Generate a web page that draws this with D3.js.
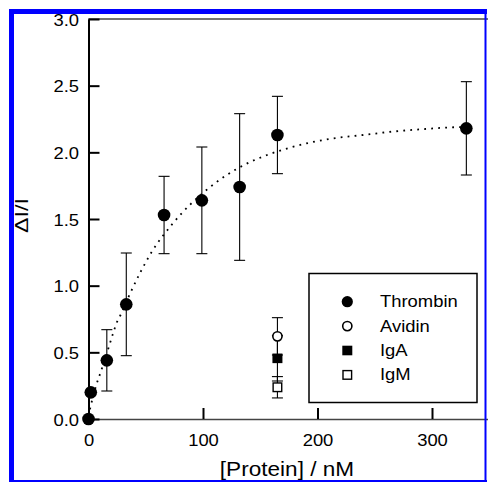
<!DOCTYPE html>
<html>
<head>
<meta charset="utf-8">
<script src="https://cdn.jsdelivr.net/npm/d3@7"></script>
<style>
  html, body { margin: 0; padding: 0; background: #fff; }
  svg { display: block; font-family: "Liberation Sans", Arial, Helvetica, sans-serif; }
</style>
</head>
<body>
<div id="chart"></div>
<script>
// Thrombin binding curve, plus the control proteins at 165 nM.

const thrombinX   = [0, 2, 16, 33, 66, 99, 132, 165, 330];
const thrombinY   = [0.00, 0.20, 0.44, 0.86, 1.53, 1.64, 1.74, 2.13, 2.18];
const thrombinErr = [0, 0, 0.23, 0.385, 0.29, 0.40, 0.55, 0.29, 0.35];

// controls, all at 165 nM
const controlNames = ["Avidin", "IgA", "IgM"];
const controlX     = [165, 165, 165];
const controlY     = [0.62, 0.455, 0.238];
const controlErr   = [0.14, 0.17, 0.08];

// dotted fit curve
const fitX = [0, 2, 7, 11, 17, 21, 25, 28, 36, 55, 73, 89, 102, 119, 137, 156, 174, 192, 210, 240, 265, 294, 319, 330];
const fitY = [0.02, 0.10, 0.26, 0.36, 0.52, 0.63, 0.73, 0.78, 0.935, 1.25, 1.46, 1.61, 1.71, 1.82, 1.91, 1.98, 2.03, 2.07, 2.10, 2.13, 2.155, 2.175, 2.188, 2.19];

const xTicks = [0, 100, 200, 300];
const yTicks = [0, 0.5, 1, 1.5, 2, 2.5, 3];
const legendNames = ["Thrombin", "Avidin", "IgA", "IgM"];

const W = 488, H = 483;
const STRETCH = 1.13;   // the original text is a bit wide
const FS = 16.3;

const svg = d3.select("#chart").append("svg").attr("width", W).attr("height", H);
svg.append("rect").attr("width", W).attr("height", H).attr("fill", "#fff");

const x = d3.scaleLinear().domain([0, 350]).range([88.5, 88.5 + 350 * 1.145]);
const y = d3.scaleLinear().domain([0, 3]).range([419, 19]);

// top frame line
svg.append("line")
  .attr("x1", x(0)).attr("x2", x(350))
  .attr("y1", y(3)).attr("y2", y(3))
  .attr("stroke", "#444").attr("stroke-width", 1.5);

// ---------- axes ----------
const gx = svg.append("g").attr("transform", `translate(0,${y(0)})`)
  .call(d3.axisBottom(x).tickValues(xTicks).tickSize(-11).tickSizeOuter(0).tickFormat(d3.format("d")));
gx.select(".domain").attr("stroke", "#444").attr("stroke-width", 1.5);
gx.selectAll(".tick line").attr("stroke", "#000").attr("stroke-width", 2);
gx.selectAll(".tick text")
  .attr("y", null).attr("dy", null)
  .attr("font-size", FS).attr("fill", "#000").attr("font-family", null)
  .attr("text-anchor", "middle")
  .attr("transform", `translate(0,27) scale(${STRETCH},1)`);

const gy = svg.append("g").attr("transform", `translate(${x(0)},0)`)
  .call(d3.axisLeft(y).tickValues(yTicks).tickSize(-11).tickSizeOuter(0).tickFormat(d3.format(".1f")));
gy.select(".domain").attr("stroke", "#000").attr("stroke-width", 2);
gy.selectAll(".tick line").attr("stroke", "#000").attr("stroke-width", 2);
gy.selectAll(".tick text")
  .attr("x", null).attr("dy", null)
  .attr("font-size", FS).attr("fill", "#000").attr("font-family", null)
  .attr("text-anchor", "end")
  .attr("transform", `translate(-9.5,6) scale(${STRETCH},1)`);

// axis titles
svg.append("text")
  .attr("transform", `translate(287,476) scale(${STRETCH},1)`)
  .attr("text-anchor", "middle")
  .attr("font-size", 20)
  .text("[Protein] / nM");

svg.append("text")
  .attr("transform", "translate(28,215.5) rotate(-90)")
  .attr("text-anchor", "middle")
  .attr("font-size", 18)
  .attr("textLength", 35).attr("lengthAdjust", "spacingAndGlyphs")
  .text("ΔI/I");

// ---------- fit ----------
const fitLine = d3.line().x((d, i) => x(fitX[i])).y((d, i) => y(fitY[i])).curve(d3.curveMonotoneX);
svg.append("path")
  .datum(fitX)
  .attr("d", fitLine)
  .attr("fill", "none")
  .attr("stroke", "#000")
  .attr("stroke-width", 1.8)
  .attr("stroke-dasharray", "1.8,5.2");

// ---------- error bars ----------
const CAP = 5.5;
function errorBar(g, xv, yv, e) {
  if (!e) return;
  const px = x(xv), top = y(yv + e), bot = y(yv - e);
  g.append("line").attr("x1", px).attr("x2", px).attr("y1", top).attr("y2", bot);
  g.append("line").attr("x1", px - CAP).attr("x2", px + CAP).attr("y1", top).attr("y2", top);
  g.append("line").attr("x1", px - CAP).attr("x2", px + CAP).attr("y1", bot).attr("y2", bot);
}
const gErr = svg.append("g").attr("stroke", "#000").attr("stroke-width", 1.1);
thrombinX.forEach((xv, i) => errorBar(gErr, xv, thrombinY[i], thrombinErr[i]));
controlX.forEach((xv, i) => errorBar(gErr, xv, controlY[i], controlErr[i]));

// ---------- markers ----------
function marker(g, name, cx, cy, big) {
  if (name === "Thrombin") {
    g.append("circle").attr("cx", cx).attr("cy", cy).attr("r", big ? 6.3 : 5.6).attr("fill", "#000");
  } else if (name === "Avidin") {
    g.append("circle").attr("cx", cx).attr("cy", cy).attr("r", 4.6)
      .attr("fill", "#fff").attr("stroke", "#000").attr("stroke-width", 1.6);
  } else if (name === "IgA") {
    g.append("rect").attr("x", cx - 5).attr("y", cy - 4.8).attr("width", 10).attr("height", 9.6).attr("fill", "#000");
  } else {
    g.append("rect").attr("x", cx - 4.3).attr("y", cy - 4.3).attr("width", 8.6).attr("height", 8.6)
      .attr("fill", "#fff").attr("stroke", "#000").attr("stroke-width", 1.4);
  }
}
const gPts = svg.append("g");
thrombinX.forEach((xv, i) => marker(gPts, "Thrombin", x(xv), y(thrombinY[i]), true));
controlX.forEach((xv, i) => marker(gPts, controlNames[i], x(xv), y(controlY[i]), true));

// ---------- legend ----------
const lg = svg.append("g");
lg.append("rect")
  .attr("x", 309).attr("y", 273.5).attr("width", 168).attr("height", 129)
  .attr("fill", "#fff").attr("stroke", "#000").attr("stroke-width", 1.5);
legendNames.forEach((name, i) => {
  const cy = 301.7 + i * 24.4;
  marker(lg, name, 347.3, cy, false);
  lg.append("text")
    .attr("transform", `translate(380,${cy + 5.4}) scale(${STRETCH},1)`)
    .attr("font-size", FS)
    .text(name);
});

// ---------- blue selection frame, drawn on top ----------
const blue = "#0000ff";
svg.append("rect").attr("x", 9).attr("y", 9).attr("width", 5).attr("height", 473).attr("fill", blue);
svg.append("rect").attr("x", 9).attr("y", 9).attr("width", 478).attr("height", 5).attr("fill", blue);
svg.append("rect").attr("x", 484.5).attr("y", 9).attr("width", 2).attr("height", 473).attr("fill", blue);
svg.append("rect").attr("x", 9).attr("y", 480).attr("width", 478).attr("height", 2).attr("fill", blue);
</script>
</body>
</html>
